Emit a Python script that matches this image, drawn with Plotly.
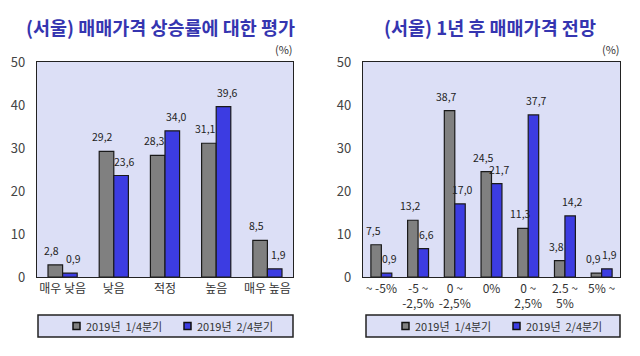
import plotly.graph_objects as go

# ---- data ----
left_categories = ["매우 낮음", "낮음", "적정", "높음", "매우 높음"]
left_q1 = [2.8, 29.2, 28.3, 31.1, 8.5]
left_q2 = [0.9, 23.6, 34.0, 39.6, 1.9]

right_categories = ["~ -5%", "-5 ~<br>-2,5%", "0 ~<br>-2,5%", "0%", "0 ~<br>2,5%", "2.5 ~<br>5%", "5% ~"]
right_q1 = [7.5, 13.2, 38.7, 24.5, 11.3, 3.8, 0.9]
right_q2 = [0.9, 6.6, 17.0, 21.7, 37.7, 14.2, 1.9]

series_names = ["2019년  1/4분기", "2019년  2/4분기"]
y_ticks = [0, 10, 20, 30, 40, 50]

FONT = "Noto Sans CJK KR"
GRAY = "#808080"
BLUE = "#3c3ce2"
EDGE = "#1a1a1a"
PLOTBG = "#dcdff6"
TITLE_C = "#3535b0"
W, H = 640, 356


def fmt(v):
    return f"{v:.1f}".replace(".", ",")


fig = go.Figure()

panels = [
    dict(cats=left_categories, q1=left_q1, q2=left_q2, xa="x", ya="y", lab_shift=11),
    dict(cats=right_categories, q1=right_q1, q2=right_q2, xa="x2", ya="y2", lab_shift=8),
]
for p in panels:
    for name, vals, col, sgn in [(series_names[0], p["q1"], GRAY, -1),
                                 (series_names[1], p["q2"], BLUE, 1)]:
        fig.add_trace(go.Bar(
            x=p["cats"], y=vals, name=name, xaxis=p["xa"], yaxis=p["ya"],
            showlegend=False,
            marker=dict(color=col, line=dict(color=EDGE, width=1.2)),
        ))
        for c, v in zip(p["cats"], vals):
            fig.add_annotation(x=c, y=v, xref=p["xa"], yref=p["ya"], text=fmt(v),
                               showarrow=False, yanchor="bottom", xanchor="center",
                               xshift=sgn * p["lab_shift"], yshift=5,
                               font=dict(family=FONT, size=10.5, color="#222222"))

ydom = [(H - 277) / H, (H - 62) / H]
lx = [37 / W, 293 / W]
rx = [363 / W, 620 / W]

axis_common = dict(showline=True, linecolor="#222222", linewidth=1.3, mirror=True,
                   showgrid=False, ticks="", zeroline=False, automargin=False)

fig.update_layout(
    width=W, height=H,
    margin=dict(l=0, r=0, t=0, b=0, autoexpand=False),
    paper_bgcolor="white", plot_bgcolor=PLOTBG,
    barmode="group",
    font=dict(family=FONT, color="#333333"),
    showlegend=False,
    xaxis=dict(domain=lx, anchor="y", tickfont=dict(size=12, color="#333333"), **axis_common),
    yaxis=dict(domain=ydom, anchor="x", range=[0, 50], tickvals=y_ticks, ticklabelstandoff=8,
               tickfont=dict(size=13, color="#444444"), **axis_common),
    xaxis2=dict(domain=rx, anchor="y2", tickfont=dict(size=12, color="#333333"), **axis_common),
    yaxis2=dict(domain=ydom, anchor="x2", range=[0, 50], tickvals=y_ticks, ticklabelstandoff=8,
                tickfont=dict(size=13, color="#444444"), **axis_common),
    bargap=0.43,
)

# legend boxes (drawn manually)
for x0, x1 in [(38, 293), (366, 620)]:
    fig.add_shape(type="rect", xref="paper", yref="paper",
                  x0=x0 / W, x1=x1 / W, y0=(H - 337) / H, y1=(H - 315) / H,
                  fillcolor=PLOTBG, line=dict(color="#222222", width=1.5), layer="below")

legend_items = [(73, 84, GRAY, series_names[0]), (184, 195, BLUE, series_names[1]),
                (402, 413, GRAY, series_names[0]), (513, 524, BLUE, series_names[1])]
ly = (H - 326) / H
for mx, tx, col, name in legend_items:
    fig.add_shape(type="rect", xref="paper", yref="paper",
                  x0=mx / W, x1=(mx + 7) / W, y0=(H - 329.5) / H, y1=(H - 322.5) / H,
                  fillcolor=col, line=dict(color="#111111", width=1.5))
    fig.add_annotation(text=name, xref="paper", yref="paper", x=tx / W, y=ly,
                       xanchor="left", yanchor="middle", showarrow=False,
                       font=dict(size=11, color="#333333", family=FONT))

# titles and unit labels
fig.add_annotation(text="<b>(서울) 매매가격 상승률에 대한 평가</b>", xref="paper", yref="paper",
                   x=160 / W, y=(H - 27) / H, xanchor="center", yanchor="middle", showarrow=False,
                   font=dict(size=18.5, color=TITLE_C, family=FONT))
fig.add_annotation(text="<b>(서울) 1년 후 매매가격 전망</b>", xref="paper", yref="paper",
                   x=490 / W, y=(H - 27) / H, xanchor="center", yanchor="middle", showarrow=False,
                   font=dict(size=18.5, color=TITLE_C, family=FONT))
fig.add_annotation(text="(%)", xref="paper", yref="paper", x=284 / W, y=(H - 49) / H,
                   xanchor="center", yanchor="middle",
                   showarrow=False, font=dict(size=11, color="#333333", family=FONT))
fig.add_annotation(text="(%)", xref="paper", yref="paper", x=611 / W, y=(H - 49) / H,
                   xanchor="center", yanchor="middle",
                   showarrow=False, font=dict(size=11, color="#333333", family=FONT))

fig.write_html("out.html", config={"displayModeBar": False},
               post_script="document.body.style.margin='0';")
